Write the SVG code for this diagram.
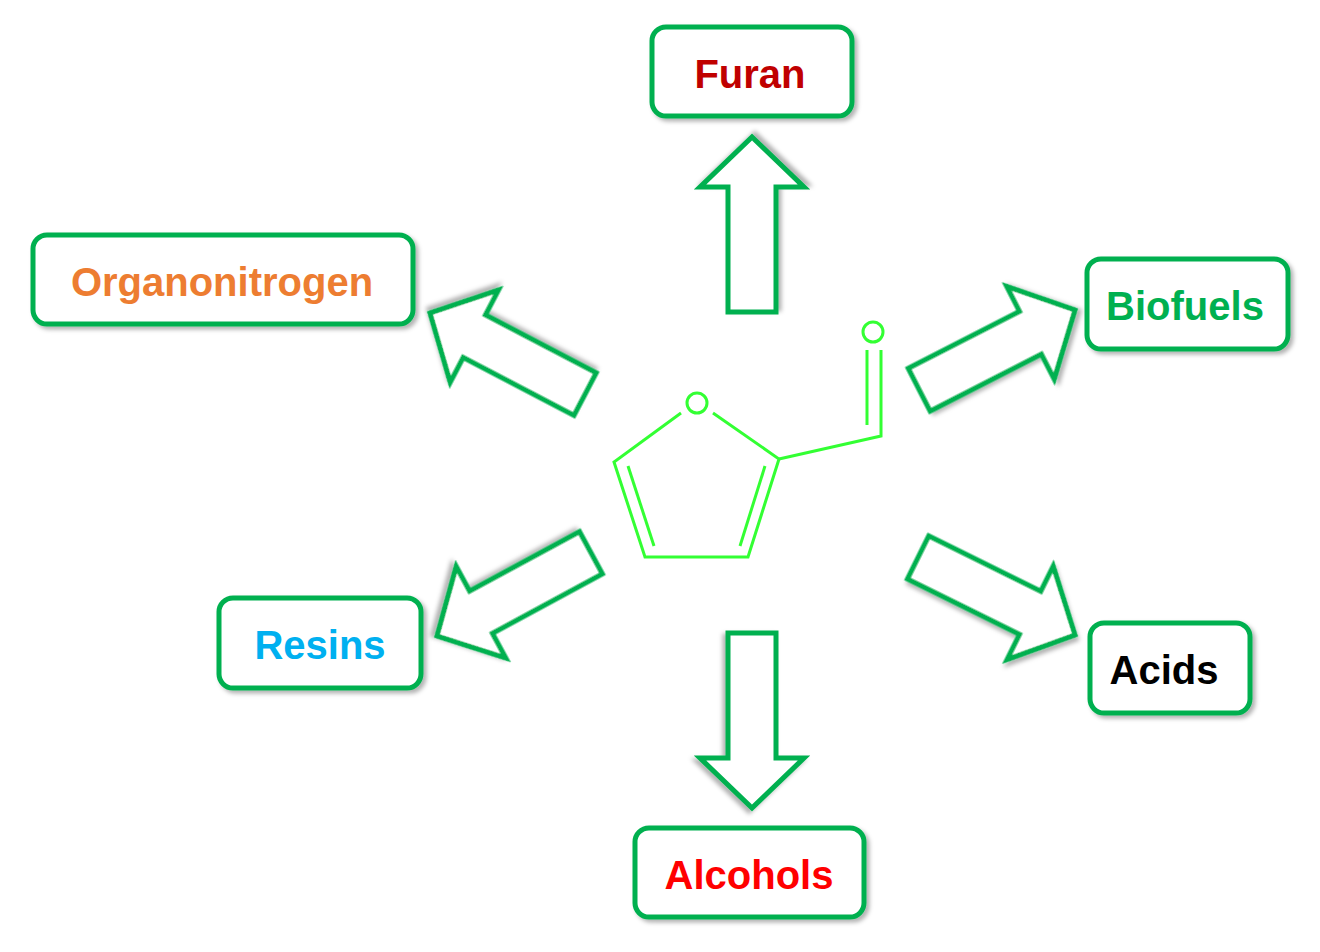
<svg xmlns="http://www.w3.org/2000/svg" width="1320" height="952" viewBox="0 0 1320 952">
<defs>
<filter id="sh" x="-20%" y="-20%" width="140%" height="140%"><feDropShadow dx="3" dy="3" stdDeviation="2" flood-color="#000" flood-opacity="0.3"/></filter>
<path id="arr" d="M0,0 L-50,-52 L-50,-24 L-175,-24 L-175,24 L-50,24 L-50,52 Z"/>
</defs>
<style>
.box{fill:#fff;stroke:#00b050;stroke-width:5;filter:url(#sh)}
.a{fill:#fff;stroke:#00b050;stroke-width:5;stroke-linejoin:miter;filter:url(#sh)}
.t{font-family:"Liberation Sans",Arial,sans-serif;font-weight:bold;font-size:40px;text-anchor:middle}
.m{stroke:#33ff33;stroke-width:3;fill:none}
</style>
<rect width="1320" height="952" fill="#fff"/>
<g id="connectors">
<use href="#arr" class="a" transform="translate(752,137) rotate(-90)"/>
<use href="#arr" class="a" transform="translate(752,808) rotate(90)"/>
<use href="#arr" class="a" transform="translate(430,313) rotate(-152.4)"/>
<use href="#arr" class="a" transform="translate(1075,310) rotate(-27.1)"/>
<use href="#arr" class="a" transform="translate(437,636) rotate(151.6)"/>
<use href="#arr" class="a" transform="translate(1075,635) rotate(26.3)"/>
</g>
<g id="molecule" class="m">
<circle cx="697" cy="403" r="10"/>
<polyline points="681,413 614,462 645,557 748,557 779,459 713,413"/>
<line x1="628" y1="466" x2="654" y2="546"/>
<line x1="765" y1="466" x2="740" y2="546"/>
<polyline points="779,459 881,436 881,350"/>
<line x1="867" y1="425" x2="867" y2="350"/>
<circle cx="873" cy="332" r="10"/>
</g>
<g id="furan"><rect class="box" x="652" y="27" width="200" height="89" rx="14"/><text class="t" x="750" y="88" fill="#c00000">Furan</text></g>
<g id="organonitrogen"><rect class="box" x="33" y="235" width="380" height="89" rx="14"/><text class="t" x="222" y="296" fill="#ed7d31">Organonitrogen</text></g>
<g id="biofuels"><rect class="box" x="1087" y="259" width="201" height="90" rx="14"/><text class="t" x="1185" y="320" fill="#00b050">Biofuels</text></g>
<g id="resins"><rect class="box" x="219" y="598" width="202" height="90" rx="14"/><text class="t" x="320" y="659" fill="#00b0f0">Resins</text></g>
<g id="acids"><rect class="box" x="1090" y="623" width="160" height="90" rx="14"/><text class="t" x="1164" y="684" fill="#000">Acids</text></g>
<g id="alcohols"><rect class="box" x="635" y="828" width="229" height="89" rx="14"/><text class="t" x="749" y="889" fill="#ff0000">Alcohols</text></g>
</svg>
